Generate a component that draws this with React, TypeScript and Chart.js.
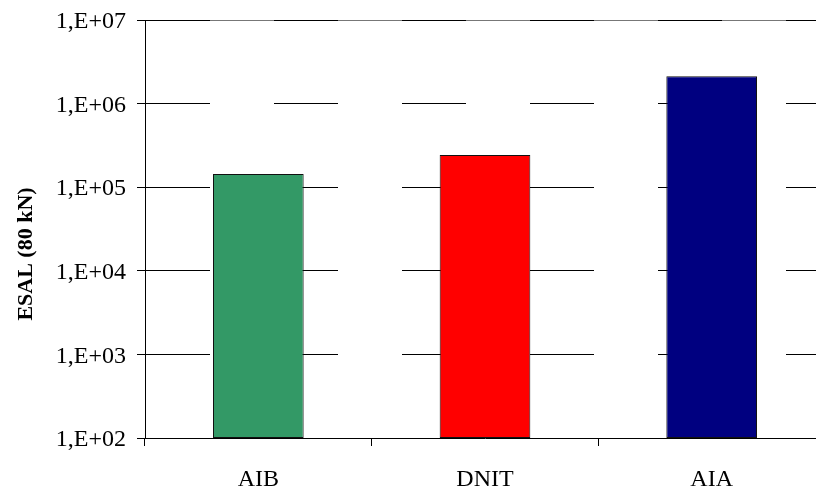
import React, { useEffect, useRef } from "react";
import { Chart, registerables } from "chart.js";

Chart.register(...registerables);

const categories = ["AIB", "DNIT", "AIA"];
const esalValues = [1.44e5, 2.43e5, 2.12e6];
const barColors = ["#339966", "#FF0000", "#000080"];
const yTickValues = [1e2, 1e3, 1e4, 1e5, 1e6, 1e7];
const yTickLabels = ["1,E+02", "1,E+03", "1,E+04", "1,E+05", "1,E+06", "1,E+07"];
const yTitle = "ESAL (80 kN)";

const FONT = "'Liberation Serif', 'Times New Roman', serif";

const titlePlugin = {
  id: "leftTitle",
  beforeDraw(chart: any) {
    const { ctx, chartArea } = chart;
    const yScale = chart.scales.y;
    const yTop = Math.round(yScale.getPixelForValue(yTickValues[yTickValues.length - 1])) + 0.5;
    ctx.save();
    ctx.strokeStyle = "#777";
    ctx.lineWidth = 1;
    ctx.beginPath();
    ctx.moveTo(chartArea.left, yTop);
    ctx.lineTo(chartArea.right, yTop);
    ctx.stroke();
    ctx.restore();
  },
  afterDraw(chart: any) {
    const { ctx, chartArea } = chart;
    const cy = (chartArea.top + chartArea.bottom) / 2 + 25;
    ctx.save();
    ctx.translate(32, cy);
    ctx.rotate(-Math.PI / 2);
    ctx.font = `bold 22px ${FONT}`;
    ctx.fillStyle = "#000";
    ctx.textAlign = "center";
    ctx.textBaseline = "alphabetic";
    ctx.fillText(yTitle, 0, 0);
    ctx.restore();
  },
};

export default function App() {
  const canvasRef = useRef<HTMLCanvasElement>(null);

  useEffect(() => {
    if (!canvasRef.current) return;
    const chart = new Chart(canvasRef.current, {
      type: "bar",
      data: {
        labels: categories,
        datasets: [
          {
            data: esalValues,
            backgroundColor: barColors,
            borderColor: "#111",
            borderWidth: 1,
            borderSkipped: false,
            categoryPercentage: 1,
            barPercentage: 0.4,
          },
        ],
      },
      options: {
        responsive: false,
        animation: false,
        layout: { padding: { top: 20, right: 1, bottom: 0, left: 0 } },
        plugins: {
          legend: { display: false },
          tooltip: { enabled: false },
        },
        scales: {
          x: {
            type: "category",
            offset: true,
            grid: {
              offset: true,
              drawOnChartArea: false,
              drawTicks: true,
              tickLength: 8,
              color: "#000",
              tickColor: "#000",
            },
            border: { display: true, color: "#000", width: 1 },
            ticks: {
              color: "#000",
              font: { family: FONT, size: 24 },
              padding: 19,
              maxRotation: 0,
            },
            afterFit: (scale: any) => {
              scale.height = 50;
              scale.paddingLeft = 0;
              scale.paddingRight = 0;
            },
          },
          y: {
            type: "logarithmic",
            min: yTickValues[0],
            max: yTickValues[yTickValues.length - 1],
            afterBuildTicks: (scale: any) => {
              scale.ticks = yTickValues.map((v) => ({ value: v }));
            },
            afterFit: (scale: any) => {
              scale.width = 145;
              scale.paddingTop = 0;
              scale.paddingBottom = 0;
            },
            grid: {
              color: "#000",
              lineWidth: 1,
              drawTicks: true,
              tickLength: 8,
              tickColor: "#000",
            },
            border: { display: true, color: "#000", width: 1, dash: [64, 64] },
            ticks: {
              color: "#000",
              font: { family: FONT, size: 24 },
              padding: 11,
              labelOffset: 2,
              callback: (value: any) => {
                const i = yTickValues.indexOf(Number(value));
                return i >= 0 ? yTickLabels[i] : "";
              },
            },
          },
        },
      },
      plugins: [titlePlugin],
    });
    return () => chart.destroy();
  }, []);

  return (
    <div
      style={{
        position: "absolute",
        left: 0,
        top: 0,
        width: 816,
        height: 488,
        overflow: "hidden",
        background: "#fff",
      }}
    >
      <canvas ref={canvasRef} width={826} height={488} style={{ width: 826, height: 488, display: "block" }} />
    </div>
  );
}
